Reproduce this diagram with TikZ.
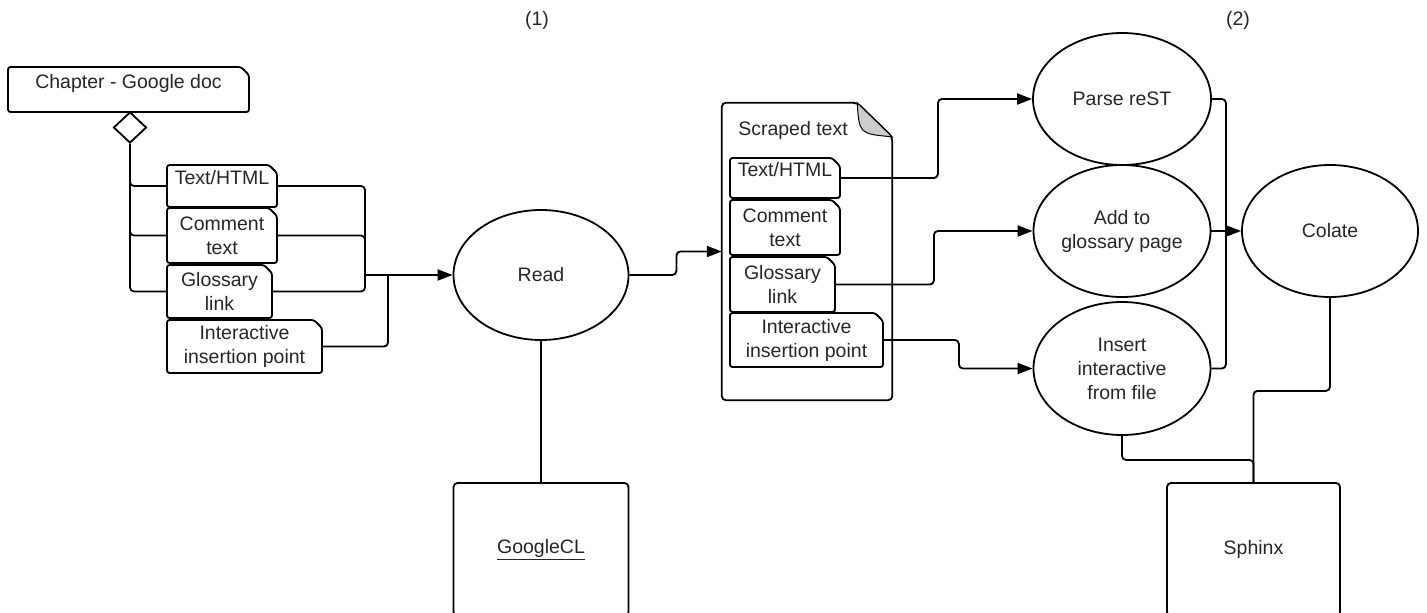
\documentclass[tikz,border=0pt]{standalone}
\usepackage{fontspec}
\setmainfont{Liberation Sans}
\usetikzlibrary{arrows.meta, shapes.geometric, shapes.misc}

\begin{document}
\begin{tikzpicture}[
  x=1pt, y=-1pt,
  every node/.style={font=\fontsize{19.5}{24}\selectfont, text=black!85},
  note/.style={draw=black, line width=1.8pt, chamfered rectangle, chamfered rectangle corners=north east, chamfered rectangle xsep=4pt, chamfered rectangle ysep=4pt, rounded corners=2.5pt, inner sep=0pt, align=center},
  proc/.style={draw=black, line width=1.8pt, ellipse, inner sep=0pt, align=center},
  tool/.style={draw=black, line width=1.8pt, rounded corners=4pt, inner sep=0pt, minimum width=175pt, minimum height=133pt},
  conn/.style={line width=1.8pt, rounded corners=4pt},
  arr/.style={conn, -{Triangle[length=15pt, width=11pt]}}
]
  \useasboundingbox (0,0) rectangle (1427,613);

  \node (lab1) at (537,20) {(1)};
  \node (lab2) at (1238,20) {(2)};

  % source document
  \node[note, minimum width=241pt, text height=17.5pt, text depth=19.5pt] (chap) at (128.5,89.5) {Chapter - Google doc};
  \node[draw, diamond, line width=1.8pt, minimum width=33pt, minimum height=31pt, inner sep=0pt] (dia) at (130,127.5) {};
  \node[note, minimum width=110pt, text height=15.5pt, text depth=18.5pt] (txt) at (222,186) {Text/HTML};
  \node[note, minimum width=110pt, minimum height=55pt] (cmt) at (222,235.5) {Comment\\text};
  \node[note, minimum width=105pt, minimum height=53pt] (gls) at (219.5,291.5) {Glossary\\link};
  \node[note, minimum width=155pt, minimum height=53pt] (ins) at (244.5,346.5) {Interactive\\insertion point};

  \draw[conn] (dia.south) |- (txt.west);
  \draw[conn] (dia.south) |- (cmt.west);
  \draw[conn] (dia.south) |- (gls.west);

  \node[proc, minimum width=175pt, minimum height=130pt] (read) at (541,275) {Read};
  \node[tool] (gcl) at (541,549.5) {\underline{GoogleCL}};
  \coordinate (jn) at (365,275);
  \coordinate (jn2) at (388,275);

  \draw[conn] (txt.east) -| (jn);
  \draw[conn] (cmt.east) -| (jn);
  \draw[conn] (gls.east) -| (jn);
  \draw[conn] (ins.east) -| (jn2);
  \draw[arr] (jn) -- (read.west);
  \draw[conn] (read.south) -- (gcl.north);

  % scraped text
  \node[minimum width=170pt, minimum height=297pt, inner sep=0pt] (scraped) at (807,251.5) {};
  \draw[conn] ([xshift=-35pt]scraped.north east) -- (scraped.north west) -- (scraped.south west)
    -- (scraped.south east) -- ([yshift=-34pt]scraped.north east) -- cycle;
  \filldraw[fill=gray!40, line width=1pt] ([xshift=-35pt]scraped.north east)
    .. controls ([xshift=-33pt, yshift=-31pt]scraped.north east) .. ([yshift=-34pt]scraped.north east) -- cycle;
  \node (stitle) at (793,130) {Scraped text};
  \node[note, minimum width=110pt, text height=14.5pt, text depth=17.5pt] (stxt) at (785,178) {Text/HTML};
  \node[note, minimum width=110pt, minimum height=55pt] (scmt) at (785,227.5) {Comment\\text};
  \node[note, minimum width=105pt, minimum height=55pt] (sgls) at (782.5,284.5) {Glossary\\link};
  \node[note, minimum width=153pt, minimum height=54pt] (sins) at (806.5,340) {Interactive\\insertion point};

  \draw[arr] (read.east) -- ++(47,0) |- (scraped.west);

  % processing
  \node[proc, minimum width=178pt, minimum height=132pt] (parse) at (1122,99) {Parse reST};
  \node[proc, minimum width=177pt, minimum height=132pt] (addg) at (1122,231) {Add to\\glossary page};
  \node[proc, minimum width=177pt, minimum height=133pt] (insf) at (1122,368.5) {Insert\\interactive\\from file};
  \node[proc, minimum width=176pt, minimum height=132pt] (colate) at (1330,231) {Colate};
  \node[tool, minimum width=173pt] (sphinx) at (1253.5,549.5) {Sphinx};

  \draw[arr] (stxt.east) -- ++(97,0) |- (parse.west);
  \draw[arr] (sgls.east) -- ++(98,0) |- (addg.west);
  \draw[arr] (sins.east) -- ++(75,0) |- (insf.west);

  \draw[conn] (parse.east) -- ++(14,0) |- (insf.east);
  \draw[arr] (addg.east) -- (colate.west);
  \draw[conn] (colate.south) -- ++(0,93) -| (sphinx.north);
  \draw[conn] (insf.south) -- ++(0,24) -| (sphinx.north);
\end{tikzpicture}
\end{document}
